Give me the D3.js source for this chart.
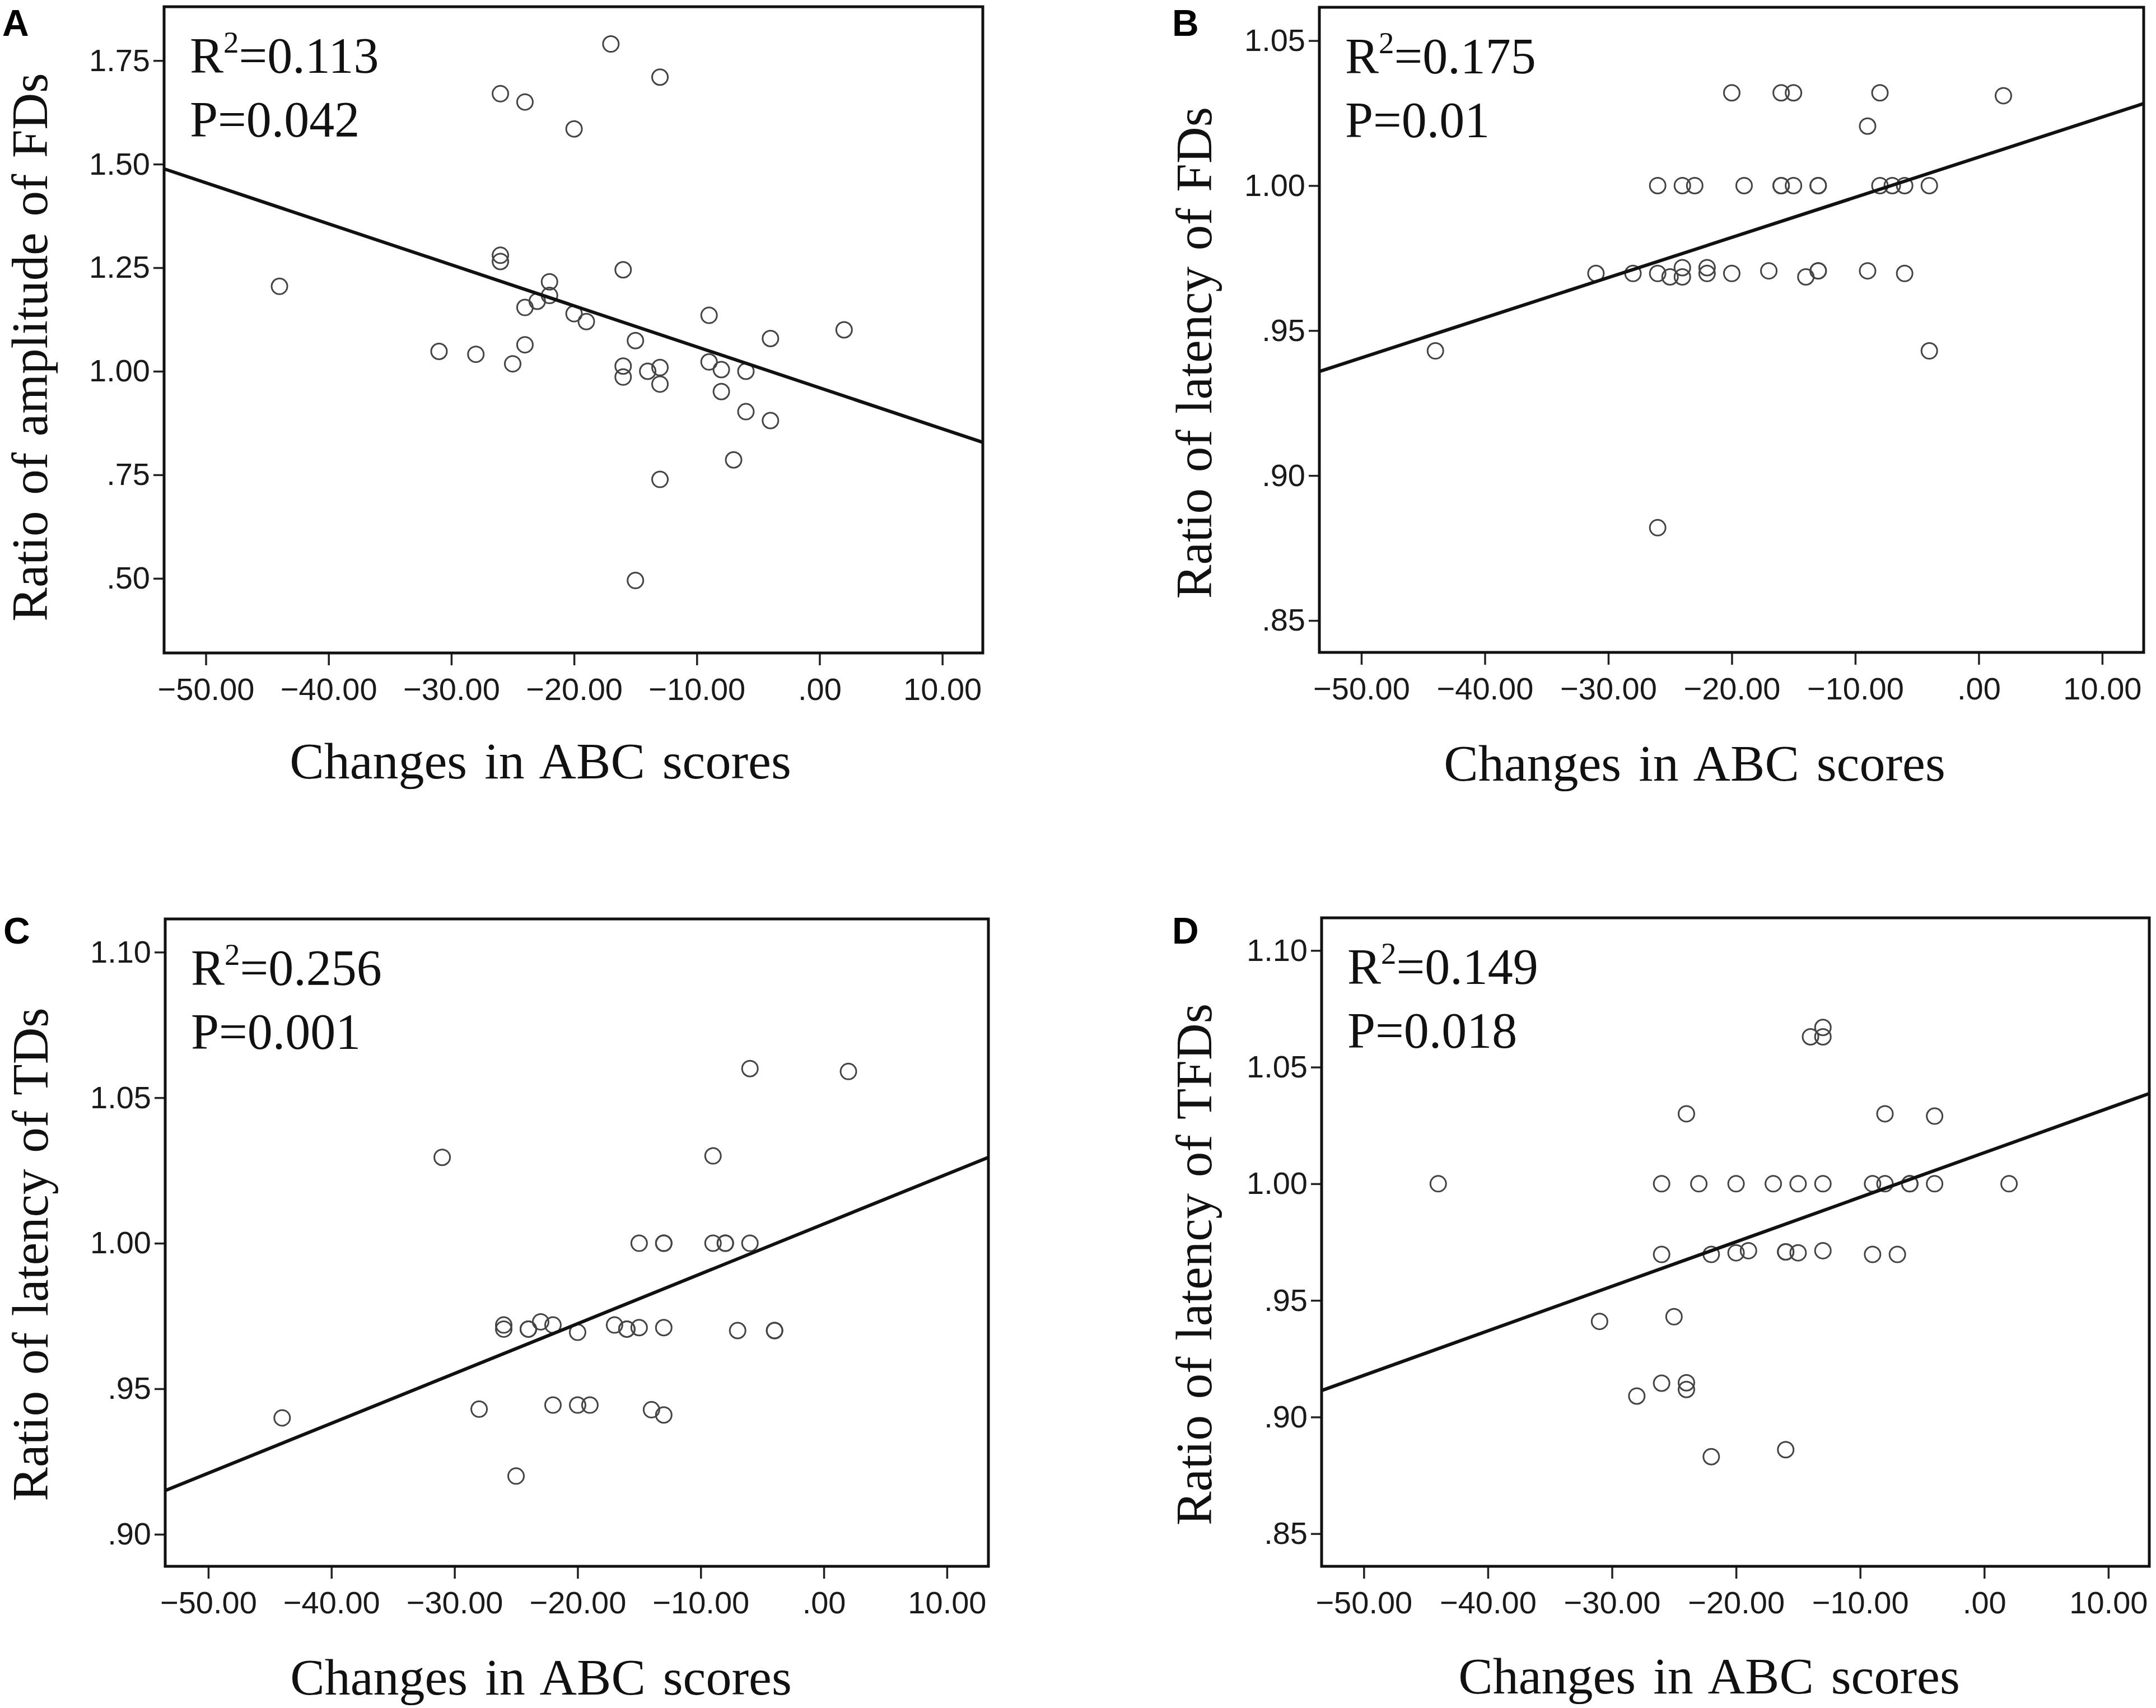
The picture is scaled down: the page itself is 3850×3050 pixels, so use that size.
<!DOCTYPE html>
<html><head><meta charset="utf-8">
<script src="https://cdn.jsdelivr.net/npm/d3@7"></script>
<style>body{margin:0;background:#fff}</style>
</head><body>
<svg id="chart" width="3850" height="3050" xmlns="http://www.w3.org/2000/svg"></svg>
<script>
// ---------- DATA ----------
const panelLetters = ["A", "B", "C", "D"];
const xTitle = "Changes in ABC scores";
const yTitles = ["Ratio of amplitude of FDs", "Ratio of latency of FDs", "Ratio of latency of TDs", "Ratio of latency of TFDs"];
const r2Values = ["0.113", "0.175", "0.256", "0.149"];
const pValues = ["0.042", "0.01", "0.001", "0.018"];

const xTickValues = [-50, -40, -30, -20, -10, 0, 10];
const yTicksA = [0.50, 0.75, 1.00, 1.25, 1.50, 1.75];
const yTicksB = [0.85, 0.90, 0.95, 1.00, 1.05];
const yTicksC = [0.90, 0.95, 1.00, 1.05, 1.10];
const yTicksD = [0.85, 0.90, 0.95, 1.00, 1.05, 1.10];

// fitted regression lines: y = intercept + slope * x
const fitIntercept = [0.960, 1.0098, 1.0066, 1.0133];
const fitSlope = [-0.0099, 0.001384, 0.001712, 0.001909];

const xA = [-17, -13, -26, -24, -20, -44, -26, -26, -16, -22, -22, -23, -24, -20, -19, -9, -4, 2, -15, -24, -31, -28, -25, -16, -16, -14, -13, -13, -9, -8, -6, -8, -6, -4, -7, -13, -15];
const yA = [1.79, 1.71, 1.67, 1.65, 1.585, 1.205, 1.28, 1.265, 1.245, 1.216, 1.183, 1.169, 1.154, 1.139, 1.12, 1.135, 1.079, 1.10, 1.074, 1.064, 1.048, 1.041, 1.018, 1.0125, 0.986, 1.0, 1.009, 0.969, 1.0225, 1.004, 1.0, 0.951, 0.9025, 0.881, 0.786, 0.739, 0.495];

const xB = [-20, -16, -15, -8, 2, -9,
  -26, -24, -23, -19, -16, -16, -15, -13, -13, -8, -7, -6, -4,
  -31, -28, -26, -25, -24, -24, -22, -22, -20, -17, -14, -13, -13, -9, -6,
  -44, -4, -26];
const yB = [1.032, 1.032, 1.032, 1.032, 1.031, 1.0205,
  1, 1, 1, 1, 1, 1, 1, 1, 1, 1, 1, 1, 1,
  0.9697, 0.9697, 0.9697, 0.9685, 0.9717, 0.9685, 0.9717, 0.9697, 0.9697, 0.9706, 0.9685, 0.9706, 0.9706, 0.9706, 0.9697,
  0.943, 0.943, 0.882];

const xC = [-6, 2, -31, -9,
  -15, -13, -13, -9, -8, -8, -6,
  -26, -26, -24, -24, -23, -22, -20, -17, -16, -16, -15, -13, -7, -4, -4,
  -28, -22, -20, -19, -14, -13,
  -44, -25];
const yC = [1.060, 1.059, 1.0295, 1.030,
  1, 1, 1, 1, 1, 1, 1,
  0.9719, 0.9705, 0.9705, 0.9705, 0.973, 0.9719, 0.9694, 0.9719, 0.9705, 0.9705, 0.971, 0.971, 0.970, 0.970, 0.970,
  0.943, 0.9444, 0.9444, 0.9444, 0.9428, 0.941,
  0.940, 0.920];

const xD = [-14, -13, -13, -24, -8, -4,
  -44, -26, -23, -20, -17, -15, -13, -9, -8, -6, -6, -4, 2,
  -26, -22, -20, -19, -16, -16, -15, -13, -9, -7,
  -31, -25, -26, -28, -24, -24, -22, -16];
const yD = [1.063, 1.067, 1.063, 1.030, 1.030, 1.029,
  1, 1, 1, 1, 1, 1, 1, 1, 1, 1, 1, 1, 1,
  0.9697, 0.9697, 0.9704, 0.9713, 0.9708, 0.9708, 0.9704, 0.9713, 0.9697, 0.9697,
  0.941, 0.943, 0.9145, 0.909, 0.9147, 0.9118, 0.883, 0.886];

// ---------- LAYOUT ----------
const panels = [
  {xs: xA, ys: yA, yTicks: yTicksA, frame: [293, 12, 1755, 1166], xDomain: [-53.4, 13.3], yDomain: [0.32, 1.88],
   letterX: 4, letterY: 64, yTitleX: 84, yTitleCY: 620, xTitleCX: 965, xTitleY: 1390},
  {xs: xB, ys: yB, yTicks: yTicksB, frame: [2356, 13, 3828, 1165], xDomain: [-53.4, 13.36], yDomain: [0.839, 1.0615],
   letterX: 2093, letterY: 64, yTitleX: 2163, yTitleCY: 630, xTitleCX: 3026, xTitleY: 1394},
  {xs: xC, ys: yC, yTicks: yTicksC, frame: [295, 1641, 1765, 2797], xDomain: [-53.5, 13.37], yDomain: [0.889, 1.1114],
   letterX: 6, letterY: 1685, yTitleX: 85, yTitleCY: 2240, xTitleCX: 966, xTitleY: 3026},
  {xs: xD, ys: yD, yTicks: yTicksD, frame: [2360, 1639, 3838, 2797], xDomain: [-53.4, 13.3], yDomain: [0.836, 1.114],
   letterX: 2093, letterY: 1685, yTitleX: 2163, yTitleCY: 2258, xTitleCX: 3052, xTitleY: 3024}
];

const SANS = "'Liberation Sans', Arial, sans-serif";
const SERIF = "'Liberation Serif', 'Times New Roman', serif";
const fmt = v => d3.format(".2f")(v).replace(/^(-?)0\./, "$1.");

const svg = d3.select("#chart");
svg.append("rect").attr("width", 3850).attr("height", 3050).attr("fill", "#fff");

panels.forEach((p, i) => {
  const [L, T, R, B] = p.frame;
  const x = d3.scaleLinear().domain(p.xDomain).range([L, R]);
  const y = d3.scaleLinear().domain(p.yDomain).range([B, T]);
  const g = svg.append("g");

  const styleAxis = s => {
    s.select(".domain").remove();
    s.selectAll(".tick line").attr("stroke", "#222").attr("stroke-width", 3.5);
    s.selectAll(".tick text").attr("font-family", SANS).attr("font-size", 56).attr("fill", "#1a1a1a");
  };

  g.append("g").attr("transform", `translate(${L},0)`)
    .call(d3.axisLeft(y).tickValues(p.yTicks).tickFormat(fmt).tickSize(19).tickPadding(6))
    .call(styleAxis);

  g.append("g").attr("transform", `translate(0,${B})`)
    .call(d3.axisBottom(x).tickValues(xTickValues).tickFormat(fmt).tickSize(22).tickPadding(22))
    .call(styleAxis);

  // points
  g.append("g").selectAll("circle")
    .data(d3.zip(p.xs, p.ys))
    .join("circle")
    .attr("cx", d => x(d[0]))
    .attr("cy", d => y(d[1]))
    .attr("r", 14)
    .attr("fill", "none")
    .attr("stroke", "#444")
    .attr("stroke-width", 3);

  // regression line
  const [x0, x1] = p.xDomain;
  g.append("line")
    .attr("x1", x(x0)).attr("y1", y(fitIntercept[i] + fitSlope[i] * x0))
    .attr("x2", x(x1)).attr("y2", y(fitIntercept[i] + fitSlope[i] * x1))
    .attr("stroke", "#111").attr("stroke-width", 6);

  // frame
  g.append("rect").attr("x", L).attr("y", T).attr("width", R - L).attr("height", B - T)
    .attr("fill", "none").attr("stroke", "#111").attr("stroke-width", 5);

  // stats
  const t1 = g.append("text").attr("x", L + 46).attr("y", T + 118)
    .attr("font-family", SERIF).attr("font-size", 90).attr("fill", "#111");
  t1.append("tspan").text("R");
  t1.append("tspan").attr("font-size", 55).attr("dy", -36).text("2");
  t1.append("tspan").attr("dy", 36).text("=" + r2Values[i]);
  g.append("text").attr("x", L + 46).attr("y", T + 232)
    .attr("font-family", SERIF).attr("font-size", 90).attr("fill", "#111")
    .text("P=" + pValues[i]);

  // panel letter
  g.append("text").attr("x", p.letterX).attr("y", p.letterY)
    .attr("font-family", SANS).attr("font-weight", "bold").attr("font-size", 66).attr("fill", "#000")
    .text(panelLetters[i]);

  // y title
  g.append("text").attr("transform", `translate(${p.yTitleX},${p.yTitleCY}) rotate(-90)`)
    .attr("text-anchor", "middle").attr("font-family", SERIF).attr("font-size", 91)
    .attr("word-spacing", 6).attr("fill", "#111")
    .text(yTitles[i]);

  // x title
  g.append("text").attr("x", p.xTitleCX).attr("y", p.xTitleY)
    .attr("text-anchor", "middle").attr("font-family", SERIF).attr("font-size", 92)
    .attr("word-spacing", 8).attr("fill", "#111")
    .text(xTitle);
});
</script>
</body></html>
